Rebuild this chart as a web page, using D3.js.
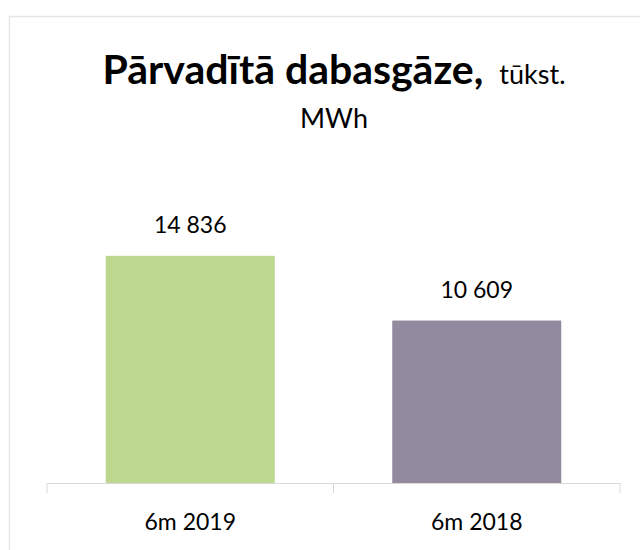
<!DOCTYPE html>
<html><head><meta charset="utf-8">
<script src="https://cdn.jsdelivr.net/npm/d3@7"></script>
<style>body{margin:0;background:#fff;}svg{display:block;}</style>
</head><body>
<script>
const categories = ["6m 2019", "6m 2018"];
const values = [14836, 10609];
const labels = ["14 836", "10 609"];
const colors = ["#BDD78E", "#928A9E"];

const W = 640, H = 550;
const svg = d3.select("body").append("svg").attr("width", W).attr("height", H);
const font = "Lato, 'Open Sans', sans-serif";

svg.append("rect").attr("x", 9.5).attr("y", 16.5).attr("width", 640).attr("height", 550)
  .attr("fill", "#fff").attr("stroke", "#e6e6e6").attr("stroke-width", 1.5);

const x = d3.scaleBand().domain(categories).range([47, 620]).paddingInner(0.41).paddingOuter(0.205);
const y = d3.scaleLinear().domain([0, 16000]).range([483, 238]);

const title = svg.append("text").attr("x", 334).attr("y", 84).attr("text-anchor", "middle")
  .attr("font-family", font).attr("fill", "#000");
title.append("tspan").attr("font-size", 41).attr("font-weight", "bold").text("Pārvadītā dabasgāze,");
title.append("tspan").attr("font-size", 27).attr("dx", 16).text("tūkst.");
svg.append("text").attr("x", 334).attr("y", 128).attr("text-anchor", "middle")
  .attr("font-family", font).attr("font-size", 27).text("MWh");

svg.selectAll("rect.bar").data(values).join("rect").attr("class", "bar")
  .attr("x", (d, i) => x(categories[i])).attr("width", x.bandwidth())
  .attr("y", d => y(d)).attr("height", d => y(0) - y(d))
  .attr("fill", (d, i) => colors[i]);

svg.selectAll("text.val").data(values).join("text").attr("class", "val")
  .attr("x", (d, i) => x(categories[i]) + x.bandwidth() / 2)
  .attr("y", d => y(d) - 23).attr("text-anchor", "middle")
  .attr("font-family", font).attr("font-size", 23).attr("fill", "#000")
  .text((d, i) => labels[i]);

const xb = d3.scaleBand().domain(categories).range([47, 620]);
const ax = svg.append("g").attr("transform", "translate(0,483)")
  .call(d3.axisBottom(xb).tickSize(0));
ax.select(".domain").attr("stroke", "#d9d9d9");
ax.selectAll(".tick text").attr("y", 47).attr("dy", 0)
  .attr("font-family", font).attr("font-size", 23).attr("fill", "#000");
const seps = [47, 333.5, 620];
ax.selectAll("line.sep").data(seps).join("line").attr("class", "sep")
  .attr("x1", d => d).attr("x2", d => d).attr("y1", 0).attr("y2", 10)
  .attr("stroke", "#d9d9d9");
</script>
</body></html>
